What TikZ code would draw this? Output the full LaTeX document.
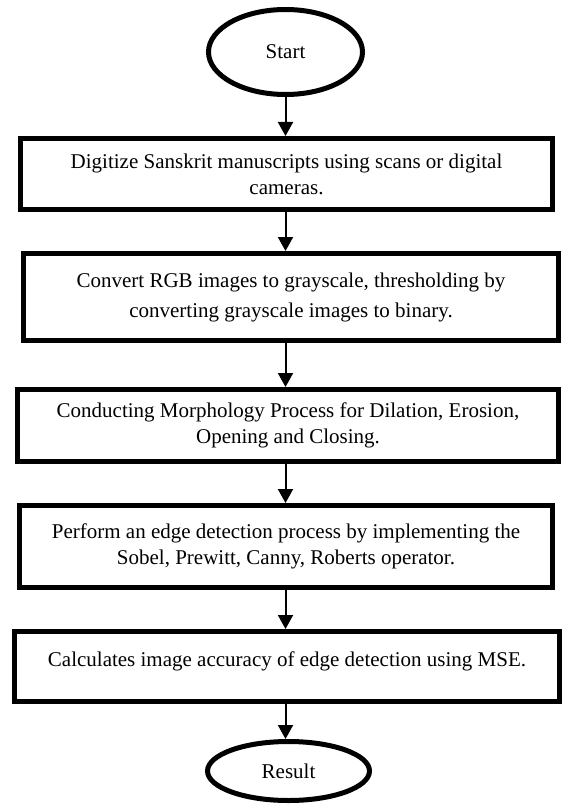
\documentclass[tikz,border=0pt]{standalone}
\usepackage{fontspec}
\setmainfont{Liberation Serif}
\usepackage{tikz}
\usetikzlibrary{shapes.geometric,arrows.meta}

\begin{document}
\begin{tikzpicture}[x=1pt, y=-1pt,
  terminal/.style={draw, ellipse, line width=5pt, inner sep=0pt},
  process/.style={draw, rectangle, line width=5pt, align=center, inner sep=0pt},
  flow/.style={-{Triangle[width=15pt,length=14pt]}, line width=2pt},
  font=\fontsize{21pt}{26pt}\selectfont]
 \useasboundingbox (0,0) rectangle (563,805);
 \node[terminal, minimum width=154pt, minimum height=85pt] (start) at (285.5,52) {Start};
 \node[process, minimum width=532pt, minimum height=71pt] (digit) at (286.5,174)
  {Digitize Sanskrit manuscripts using scans or digital\\ cameras.};
 \node[process, minimum width=535pt, minimum height=87pt] (gray) at (291,297)
  {Convert RGB images to grayscale, thresholding by\\[4pt] converting grayscale images to binary.};
 \node[process, minimum width=541pt, minimum height=72pt] (morph) at (288,425.5)
  {Conducting Morphology Process for Dilation, Erosion,\\ Opening and Closing.};
 \node[process, minimum width=533pt, minimum height=82pt] (edge) at (286,546.5)
  {Perform an edge detection process by implementing the\\ Sobel, Prewitt, Canny, Roberts operator.};
 \node[process, minimum width=545pt, minimum height=70pt, text depth=14pt] (mse) at (287,666.5)
  {Calculates image accuracy of edge detection using MSE.};
 \node[terminal, minimum width=162pt, minimum height=59pt] (result) at (288.5,771) {Result};
 \path[flow]
  (start.south) edge (start.south |- digit.north)
  (digit.south -| start.south) edge (gray.north -| start.south)
  (gray.south -| start.south) edge (morph.north -| start.south)
  (morph.south -| start.south) edge (edge.north -| start.south)
  (edge.south -| start.south) edge (mse.north -| start.south)
  (mse.south -| start.south) edge (result.north -| start.south)
  ;
\end{tikzpicture}
\end{document}
